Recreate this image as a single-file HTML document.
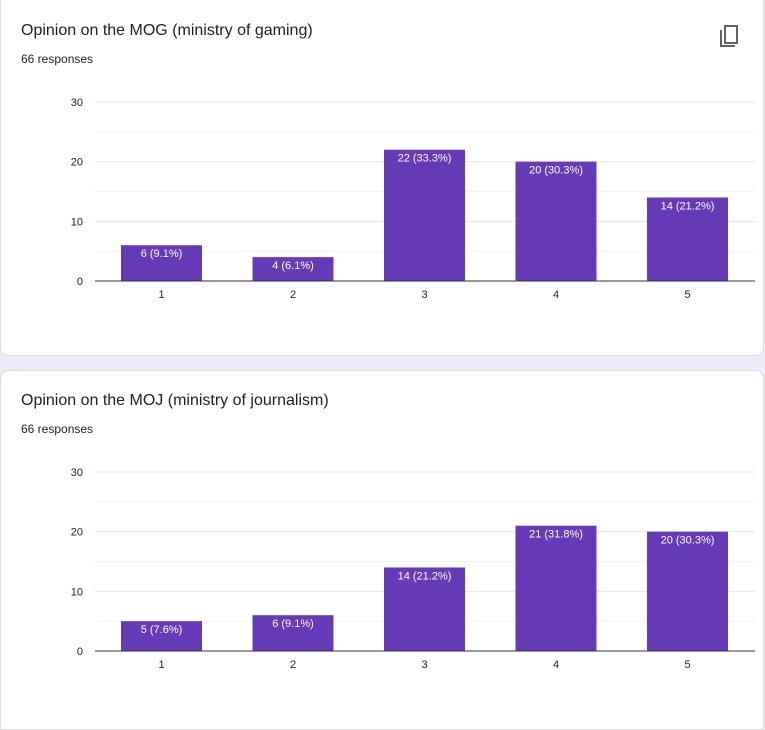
<!DOCTYPE html>
<html><head><meta charset="utf-8">
<style>
body{margin:0;width:765px;height:724px;background:#f0ebf8;font-family:"Liberation Sans",Arial,sans-serif;overflow:hidden;position:relative}
.card{position:absolute;left:0;width:764px;background:#fff;border-radius:0 0 8px 8px;border:1px solid #dadce0;box-sizing:border-box}
.title{position:absolute;left:21px;font-size:16px;color:#202124}
.sub{position:absolute;left:21px;font-size:12px;color:#202124}
svg{position:absolute;left:0;top:0}
</style></head><body>
<div class="card" style="top:-2px;height:358px"></div>
<div class="card" style="top:370px;height:360px;border-radius:8px 8px 0 0"></div>
<div class="title" style="top:22px">Opinion on the MOG (ministry of gaming)</div>
<div class="sub" style="top:52px">66 responses</div>
<div class="title" style="top:392px">Opinion on the MOJ (ministry of journalism)</div>
<div class="sub" style="top:422px">66 responses</div>
<svg width="765" height="724" id="chart">
<g fill="none" stroke="#5f6368" stroke-width="2">
<path d="M721 30 V46 H735"/><rect x="725" y="26" width="12" height="17"/>
</g>
</svg>
<script>
const categories=["1","2","3","4","5"];
const mogValues=[6,4,22,20,14];
const mogLabels=["6 (9.1%)","4 (6.1%)","22 (33.3%)","20 (30.3%)","14 (21.2%)"];
const mojValues=[5,6,14,21,20];
const mojLabels=["5 (7.6%)","6 (9.1%)","14 (21.2%)","21 (31.8%)","20 (30.3%)"];
const yTicks=[0,10,20,30];
const NS="http://www.w3.org/2000/svg";
const svg=document.getElementById('chart');
function mk(t,a){const e=document.createElementNS(NS,t);for(const k in a)e.setAttribute(k,a[k]);svg.appendChild(e);return e;}
function draw(prefix,y0,vals,labels){
  const x0=95,x1=755,h=179,max=30;
  const ys=v=>y0-v/max*h;
  const band=131.5;
  const bw=81;
  const xs=i=>x0+26+band*i;
  for(let v=5;v<=30;v+=5){
    const g=mk('line',{x1:x0,x2:x1,y1:ys(v),y2:ys(v),stroke:v%10?'#f3f3f3':'#e6e6e6'});
    
    
  }
  yTicks.forEach(v=>{
    const t=mk('text',{x:83,y:ys(v)+4,'text-anchor':'end','font-size':'11',fill:'#222'});
    t.textContent=v;
    
    
  });
  vals.forEach((v,i)=>{
    const r=mk('rect',{x:xs(i),y:ys(v),width:bw,height:y0-ys(v),fill:'#673ab7'});
    
    
    const l=mk('text',{x:xs(i)+bw/2,y:ys(v)+12,'text-anchor':'middle','font-size':'11',fill:'#fff'});
    l.textContent=labels[i];
    
    
    const c=mk('text',{x:xs(i)+bw/2,y:y0+17,'text-anchor':'middle','font-size':'11',fill:'#222'});
    c.textContent=categories[i];
    
    
  });
  const ax=mk('line',{x1:x0,x2:x1,y1:y0,y2:y0,stroke:'#333'});
  
  
}
draw('mog',281,mogValues,mogLabels);
draw('moj',651,mojValues,mojLabels);
</script>
</body></html>
